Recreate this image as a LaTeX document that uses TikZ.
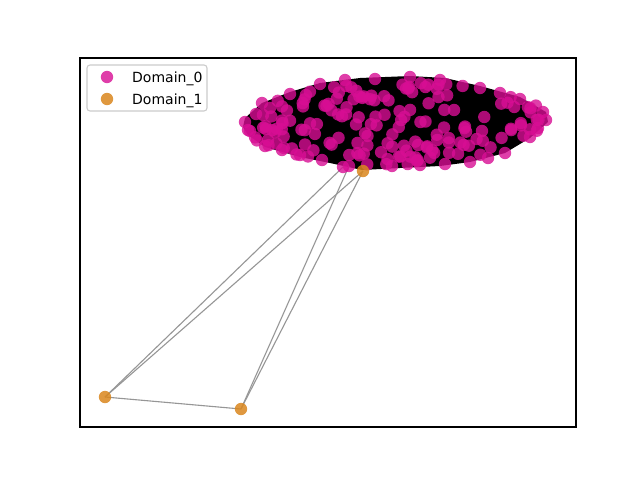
\documentclass[tikz,border=0pt]{standalone}
\usepackage{fontspec}
\setmainfont{DejaVu Sans}
\definecolor{magdot}{RGB}{216,14,148}
\definecolor{orgdot}{RGB}{218,135,30}
\definecolor{edgegray}{RGB}{150,150,150}
\definecolor{legframe}{RGB}{204,204,204}
\tikzset{
  dom0/.style={fill=magdot,fill opacity=0.8},
  dom1/.style={circle,fill=orgdot,fill opacity=0.85,minimum size=12.4pt,inner sep=0pt},
  crossedge/.style={draw=edgegray,line width=1.1pt},
  legtext/.style={anchor=base west,inner sep=0pt},
}
\begin{document}
\begin{tikzpicture}[x=1pt,y=-1pt]
\useasboundingbox (0,0) rectangle (640,480);
\fill[white] (0,0) rectangle (640,480);
% black hull of intra-domain edges
\fill[black] (245,118) -- (262,103) -- (290,92) -- (320,83) -- (360,78) -- (410,76) -- (445,78) -- (480,86) -- (520,97) -- (546,112) -- (548,122) -- (530,138) -- (505,153) -- (470,162) -- (440,166) -- (400,168) -- (362,170) -- (330,163) -- (300,157) -- (265,147) -- (248,135) -- (243,127) -- cycle;
% coordinates of cluster endpoints
\coordinate (c1) at (343,167);
\coordinate (c2) at (349,166);
% Domain_1 nodes
\coordinate (pa) at (363,171);
\coordinate (pb) at (105,397);
\coordinate (pc) at (241,409);
% cross edges
\draw[crossedge] (pb) -- (c1);
\draw[crossedge] (pb) -- (pa);
\draw[crossedge] (pc) -- (c2);
\draw[crossedge] (pc) -- (pa);
\draw[crossedge] (pb) -- (pc);
% Domain_0 dots
\pgfmathsetseed{11}
\foreach \i in {1,...,160}{
  \pgfmathsetmacro\rr{sqrt(rnd)^0.8}
  \pgfmathsetmacro\tt{360*rnd}
  \fill[dom0] ({395+149*\rr*cos(\tt)},{122-4*\rr*cos(\tt)+43*\rr*sin(\tt)}) circle (6.2pt);
}
\foreach \p in {(245,122),(250,131),(256,114),(262,103),(268,140),(290,94),(320,84),(345,80),(375,79),(410,77),(440,80),(480,88),(500,93),(520,99),(543,112),(546,120),(538,128),(530,137),(505,153),(488,158),(470,162),(445,164),(420,165),(392,166),(343,167),(349,166),(322,160),(300,155),(265,146),(248,130),(282,150),(270,108)}{
  \fill[dom0] \p circle (6.2pt);
}
% Domain_1 dots
\node[dom1] (na) at (pa) {};
\node[dom1] (nb) at (pb) {};
\node[dom1] (nc) at (pc) {};
% axes frame
\draw[line width=1.1pt] (80,58) rectangle (576,427);
% legend
\draw[legframe,fill=white,fill opacity=0.8,rounded corners=3pt,line width=1.1pt] (87,65) rectangle (207,111);
\coordinate (l0) at (107,77);
\fill[dom0] (l0) circle (6.2pt);
\node[dom1] (l1) at (107,99) {};
\node[legtext] (t0) at (132,82) {\fontsize{14}{16}\selectfont Domain\_0};
\node[legtext] (t1) at (132,104) {\fontsize{14}{16}\selectfont Domain\_1};
\end{tikzpicture}
\end{document}
